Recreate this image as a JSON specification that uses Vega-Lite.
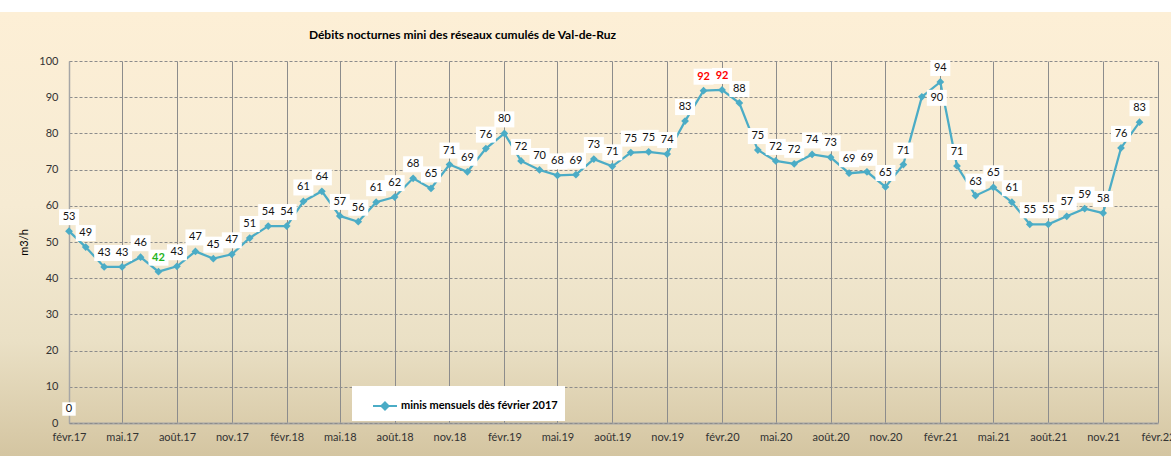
{
  "$schema": "https://vega.github.io/schema/vega-lite/v6.json",
  "width": 1171,
  "height": 456,
  "autosize": "none",
  "padding": 0,
  "background": "white",
  "config": {
    "font": "Lato",
    "view": {
      "stroke": null,
      "fill": {
        "gradient": "linear", "x1": 0, "y1": 0, "x2": 0, "y2": 1,
        "stops": [
          {"offset": 0, "color": "#FFFFFF"},
          {"offset": 0.026, "color": "#FFFFFF"},
          {"offset": 0.027, "color": "#FDEFD6"},
          {"offset": 0.45, "color": "#F6EBD3"},
          {"offset": 0.75, "color": "#EAE0C5"},
          {"offset": 1, "color": "#D4C5A1"}
        ]
      }
    }
  },
  "title": {
    "text": "Débits nocturnes mini des réseaux cumulés de Val-de-Ruz",
    "anchor": "middle", "frame": "group", "dx": -123, "dy": 47, "offset": 0,
    "baseline": "middle", "fontSize": 12, "font": "Lato", "fontWeight": "bold", "color": "#000000"
  },
  "datasets": {
    "minis": [
      {"date": "2017-02-01", "v": 53.0}, {"date": "2017-03-01", "v": 48.6}, {"date": "2017-04-01", "v": 43.1},
      {"date": "2017-05-01", "v": 43.1}, {"date": "2017-06-01", "v": 45.8}, {"date": "2017-07-01", "v": 41.8},
      {"date": "2017-08-01", "v": 43.3}, {"date": "2017-09-01", "v": 47.4}, {"date": "2017-10-01", "v": 45.4},
      {"date": "2017-11-01", "v": 46.6}, {"date": "2017-12-01", "v": 51.1}, {"date": "2018-01-01", "v": 54.4},
      {"date": "2018-02-01", "v": 54.4}, {"date": "2018-03-01", "v": 61.2}, {"date": "2018-04-01", "v": 64.0},
      {"date": "2018-05-01", "v": 57.2}, {"date": "2018-06-01", "v": 55.6}, {"date": "2018-07-01", "v": 61.0},
      {"date": "2018-08-01", "v": 62.4}, {"date": "2018-09-01", "v": 67.6}, {"date": "2018-10-01", "v": 64.8},
      {"date": "2018-11-01", "v": 71.4}, {"date": "2018-12-01", "v": 69.4}, {"date": "2019-01-01", "v": 75.8},
      {"date": "2019-02-01", "v": 80.0}, {"date": "2019-03-01", "v": 72.4}, {"date": "2019-04-01", "v": 69.9},
      {"date": "2019-05-01", "v": 68.4}, {"date": "2019-06-01", "v": 68.6}, {"date": "2019-07-01", "v": 72.9},
      {"date": "2019-08-01", "v": 70.9}, {"date": "2019-09-01", "v": 74.7}, {"date": "2019-10-01", "v": 74.9},
      {"date": "2019-11-01", "v": 74.3}, {"date": "2019-12-01", "v": 83.4}, {"date": "2020-01-01", "v": 91.8},
      {"date": "2020-02-01", "v": 92.0}, {"date": "2020-03-01", "v": 88.4}, {"date": "2020-04-01", "v": 75.4},
      {"date": "2020-05-01", "v": 72.4}, {"date": "2020-06-01", "v": 71.6}, {"date": "2020-07-01", "v": 74.2},
      {"date": "2020-08-01", "v": 73.4}, {"date": "2020-09-01", "v": 69.0}, {"date": "2020-10-01", "v": 69.4},
      {"date": "2020-11-01", "v": 65.2}, {"date": "2020-12-01", "v": 71.4}, {"date": "2021-01-01", "v": 90.1},
      {"date": "2021-02-01", "v": 94.2}, {"date": "2021-03-01", "v": 71.0}, {"date": "2021-04-01", "v": 62.8},
      {"date": "2021-05-01", "v": 65.1}, {"date": "2021-06-01", "v": 61.0}, {"date": "2021-07-01", "v": 54.9},
      {"date": "2021-08-01", "v": 54.9}, {"date": "2021-09-01", "v": 57.1}, {"date": "2021-10-01", "v": 59.2},
      {"date": "2021-11-01", "v": 58.0}, {"date": "2021-12-01", "v": 76.0}, {"date": "2022-01-01", "v": 83.1}
    ],
    "autre": [{"date": "2017-02-01", "v": 0}]
  },
  "data": {"name": "minis"},
  "encoding": {
    "x": {
      "field": "date", "type": "temporal",
      "scale": {"type": "utc", "domain": [{"year": 2017, "month": 2, "date": 1, "utc": true}, {"year": 2022, "month": 2, "date": 1, "utc": true}], "range": [69, 1158]},
      "axis": {
        "title": null, "offset": -33, "grid": false,
        "ticks": true, "tickSize": -362, "tickColor": "#8C8C8C", "tickWidth": 1,
        "values": [
          {"year": 2017, "month": 2, "date": 1, "utc": true}, {"year": 2017, "month": 5, "date": 1, "utc": true}, {"year": 2017, "month": 8, "date": 1, "utc": true}, {"year": 2017, "month": 11, "date": 1, "utc": true},
          {"year": 2018, "month": 2, "date": 1, "utc": true}, {"year": 2018, "month": 5, "date": 1, "utc": true}, {"year": 2018, "month": 8, "date": 1, "utc": true}, {"year": 2018, "month": 11, "date": 1, "utc": true},
          {"year": 2019, "month": 2, "date": 1, "utc": true}, {"year": 2019, "month": 5, "date": 1, "utc": true}, {"year": 2019, "month": 8, "date": 1, "utc": true}, {"year": 2019, "month": 11, "date": 1, "utc": true},
          {"year": 2020, "month": 2, "date": 1, "utc": true}, {"year": 2020, "month": 5, "date": 1, "utc": true}, {"year": 2020, "month": 8, "date": 1, "utc": true}, {"year": 2020, "month": 11, "date": 1, "utc": true},
          {"year": 2021, "month": 2, "date": 1, "utc": true}, {"year": 2021, "month": 5, "date": 1, "utc": true}, {"year": 2021, "month": 8, "date": 1, "utc": true}, {"year": 2021, "month": 11, "date": 1, "utc": true},
          {"year": 2022, "month": 2, "date": 1, "utc": true}
        ],
        "labelExpr": "['janv','févr','mars','avr','mai','juin','juil','août','sept','oct','nov','déc'][utcmonth(datum.value)] + '.' + utcFormat(datum.value, '%y')",
        "domainColor": "#A6A6A6", "domainWidth": 2,
        "labelPadding": 370, "labelFontSize": 11, "labelFont": "Lato", "labelColor": "#333333",
        "labelOverlap": false, "labelFlush": false, "labelBound": false
      }
    },
    "y": {
      "field": "v", "type": "quantitative",
      "scale": {"domain": [0, 100], "range": [423, 61], "nice": false, "zero": false},
      "axis": {
        "values": [0, 10, 20, 30, 40, 50, 60, 70, 80, 90, 100],
        "offset": -69, "grid": false,
        "ticks": true, "tickSize": -1089, "tickColor": "#8C8C8C", "tickWidth": 1, "tickDash": [3, 2],
        "domainColor": "#A6A6A6", "domainWidth": 1.5,
        "labelPadding": 1100, "labelFontSize": 11, "labelFont": "Lato", "labelColor": "#333333",
        "title": "m3/h", "titleX": -45, "titleY": 242, "titleAngle": -90, "titleAlign": "center", "titleBaseline": "middle",
        "titleFont": "Lato", "titleFontSize": 11, "titleFontWeight": "normal", "titleColor": "#000000"
      }
    }
  },
  "layer": [
    {
      "mark": {"type": "line", "strokeWidth": 2.25},
      "encoding": {
        "color": {
          "datum": "minis mensuels dès février 2017", "type": "nominal",
          "scale": {"range": ["#4BACC6"]},
          "legend": {
            "orient": "none", "legendX": 352, "legendY": 386, "title": null,
            "fillColor": "white", "padding": 7,
            "symbolType": "M-1,0L1,0M0,-0.3L0.3,0L0,0.3L-0.3,0Z", "symbolSize": 576,
            "symbolOffset": 13, "labelOffset": 3,
            "symbolStrokeWidth": 2, "symbolFillColor": "#4BACC6", "symbolStrokeColor": "#4BACC6",
            "labelFont": "Lato", "labelFontSize": 11, "labelFontWeight": "bold", "labelColor": "#000000",
            "encode": {"symbols": {"update": {"fill": {"value": "#4BACC6"}, "stroke": {"value": "#4BACC6"}, "strokeWidth": {"value": 2}}}}
          }
        }
      }
    },
    {
      "mark": {"type": "point", "shape": "diamond", "filled": true, "size": 60, "color": "#4BACC6", "opacity": 1}
    },
    {
      "transform": [{"filter": "round(datum.v) != 90"}],
      "mark": {"type": "point", "shape": "M-1,-0.8H1V0.8H-1Z", "filled": true, "color": "white", "size": 400, "opacity": 1, "strokeWidth": 0, "yOffset": -14}
    },
    {
      "transform": [{"filter": "round(datum.v) != 90 && round(datum.v) != 42 && round(datum.v) != 92"}],
      "mark": {"type": "text", "yOffset": -14, "fontSize": 11, "font": "Lato", "color": "#111111", "baseline": "middle"},
      "encoding": {"text": {"field": "v", "type": "quantitative", "format": ".0f"}}
    },
    {
      "transform": [{"filter": "round(datum.v) == 42 || round(datum.v) == 92"}],
      "mark": {"type": "text", "yOffset": -14, "fontSize": 11, "font": "Lato", "fontWeight": "bold", "baseline": "middle"},
      "encoding": {
        "text": {"field": "v", "type": "quantitative", "format": ".0f"},
        "color": {"condition": {"test": "round(datum.v) == 42", "value": "#22B322"}, "value": "#FF0000"}
      }
    },
    {
      "transform": [{"filter": "round(datum.v) == 90"}],
      "mark": {"type": "point", "shape": "M-1,-0.8H1V0.8H-1Z", "filled": true, "color": "white", "size": 400, "opacity": 1, "strokeWidth": 0, "xOffset": 15, "yOffset": 1}
    },
    {
      "transform": [{"filter": "round(datum.v) == 90"}],
      "mark": {"type": "text", "xOffset": 15, "yOffset": 1, "fontSize": 11, "font": "Lato", "color": "#111111", "baseline": "middle"},
      "encoding": {"text": {"field": "v", "type": "quantitative", "format": ".0f"}}
    },
    {
      "data": {"name": "autre"},
      "mark": {"type": "point", "shape": "square", "filled": true, "color": "white", "size": 180, "opacity": 1, "strokeWidth": 0, "yOffset": -14}
    },
    {
      "data": {"name": "autre"},
      "mark": {"type": "text", "yOffset": -14, "fontSize": 11, "font": "Lato", "color": "#111111", "baseline": "middle"},
      "encoding": {"text": {"field": "v", "type": "quantitative", "format": ".0f"}}
    }
  ]
}
